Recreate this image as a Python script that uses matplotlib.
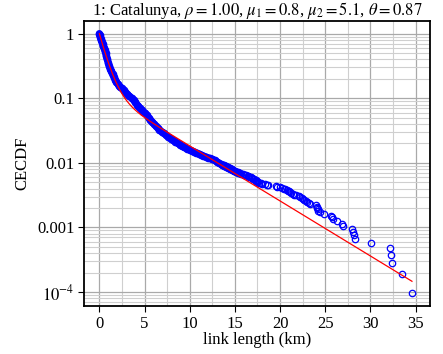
import numpy as np
import matplotlib
matplotlib.use("Agg")
import matplotlib.pyplot as plt
from matplotlib.ticker import FixedLocator, FixedFormatter, NullFormatter

plt.rcParams['font.family'] = ['Liberation Serif', 'DejaVu Serif']
plt.rcParams['mathtext.fontset'] = 'stix'

# --- fit parameters (mixture of two exponentials) ---
region = "Catalunya"
rho = 1.00
mu1 = 0.8
mu2 = 5.1
theta = 0.87
n_links = 10500

# dense part of the empirical CECDF: link length (km) and CECDF value
bulk_len = [0.00, 0.05, 0.10, 0.16, 0.22, 0.29, 0.36, 0.44, 0.52, 0.60, 0.69, 0.78, 0.88, 1.00,
            1.11, 1.22, 1.34, 1.46, 1.60, 1.74, 1.88, 2.02, 2.17, 2.32, 2.48,
            2.68, 2.88, 3.08, 3.30, 3.59,
            3.78, 3.97, 4.15, 4.30, 4.50, 4.70, 4.88, 5.07,
            5.25, 5.45, 5.65, 5.85, 6.05, 6.25, 6.45, 6.65, 6.90,
            7.15, 7.40, 7.65, 7.90, 8.15, 8.40, 8.65, 8.90, 9.15, 9.40, 9.65, 10.0,
            10.25, 10.5, 10.75, 11.0, 11.25, 11.5, 11.75, 12.0, 12.25, 12.5, 12.75, 13.0, 13.2]
bulk_cecdf = [1.00, 0.95, 0.90, 0.84, 0.79, 0.74, 0.69, 0.64, 0.60, 0.55, 0.50, 0.45, 0.40, 0.35,
              0.31, 0.285, 0.26, 0.235, 0.215, 0.195, 0.18, 0.168, 0.157, 0.149, 0.142,
              0.133, 0.124, 0.116, 0.108, 0.100,
              0.094, 0.087, 0.080, 0.075, 0.070, 0.066, 0.062, 0.0586,
              0.0545, 0.050, 0.0462, 0.0428, 0.0400, 0.0372, 0.0348, 0.0326, 0.0304,
              0.0285, 0.0268, 0.0252, 0.0238, 0.0225, 0.0213, 0.0202, 0.0192, 0.0183, 0.0174, 0.0166, 0.0158,
              0.0153, 0.0148, 0.0143, 0.0138, 0.0133, 0.0128, 0.0124, 0.0120, 0.0117, 0.0114, 0.0109, 0.0104, 0.0100]

# longest links, sorted from rank 1 downwards (CECDF = rank / n_links)
tail_len = [34.60, 33.45, 32.42, 32.25, 32.20, 30.05, 28.30, 28.22, 28.05, 27.95,
            26.95, 26.90, 26.30, 25.90, 25.75, 25.65, 24.90, 24.45, 24.25, 24.15,
            24.10, 24.05, 23.95, 23.30, 23.15, 23.00, 22.85, 22.70, 22.55, 22.40,
            22.25, 22.05, 21.80, 21.55, 21.40, 21.20, 21.05, 20.95, 20.85, 20.75,
            20.55, 20.40, 20.20, 20.00, 19.65, 19.55, 18.70, 18.55, 18.30, 18.05,
            17.85, 17.70, 17.60, 17.50, 17.42, 17.35, 17.30, 17.25, 17.15, 17.05,
            16.95, 16.90, 16.75, 16.60, 16.50, 16.40, 16.25, 16.15, 16.00, 15.85,
            15.73, 15.62, 15.51, 15.40, 15.30, 15.21, 15.12, 15.03, 14.94, 14.85,
            14.78, 14.71, 14.64, 14.57, 14.50, 14.44, 14.38, 14.32, 14.26, 14.20,
            14.13, 14.06, 13.99, 13.92, 13.85, 13.78, 13.71, 13.64, 13.57, 13.50]

tail_cecdf = np.arange(1, len(tail_len) + 1) / n_links

fig = plt.figure(figsize=(4.43, 3.54), dpi=100)
ax = fig.add_axes([0.1896, 0.1356, 0.7811, 0.8059])

blue = '#0000ff'
mk = dict(linestyle='none', marker='o', markersize=4.6, markerfacecolor='none',
          markeredgecolor=blue, markeredgewidth=0.9, zorder=3)
# thousands of overlapping circles in the dense part merge into a solid band
ax.plot(bulk_len, bulk_cecdf, color=blue, linewidth=5.2, solid_capstyle='round',
        solid_joinstyle='round', zorder=3)
ax.plot(bulk_len, bulk_cecdf, **mk)
ax.plot(tail_len, tail_cecdf, **mk)

# fitted model
xf = np.linspace(0, max(tail_len), 400)
yf = theta * np.exp(-xf / mu1) + (1 - theta) * np.exp(-xf / mu2)
ax.plot(xf, yf, color='#ff0000', linewidth=0.9, zorder=4)

ax.set_yscale('log')
ax.set_xlim(-1.7, 36.6)
ax.set_ylim(10 ** -4.215, 10 ** 0.2)

ax.xaxis.set_major_locator(FixedLocator([0, 5, 10, 15, 20, 25, 30, 35]))
ax.xaxis.set_minor_locator(FixedLocator([2.5, 7.5, 12.5, 17.5, 22.5, 27.5, 32.5]))
yticks = [1e-4, 1e-3, 1e-2, 1e-1, 1]
ax.yaxis.set_major_locator(FixedLocator(yticks))
ax.yaxis.set_major_formatter(FixedFormatter([r'$10^{-4}$', '0.001', '0.01', '0.1', '1']))
yminor = [m * 10.0 ** e for e in range(-5, 1) for m in range(2, 10)]
ax.yaxis.set_minor_locator(FixedLocator(yminor))
ax.yaxis.set_minor_formatter(NullFormatter())

ax.grid(True, which='major', color='#a9a9a9', linewidth=0.9)
ax.grid(True, which='minor', color='#cfcfcf', linewidth=0.8)
ax.set_axisbelow(True)

ax.tick_params(which='major', direction='out', length=4, width=0.8, labelsize=12, pad=3)
ax.tick_params(which='minor', length=0)
for s in ax.spines.values():
    s.set_linewidth(1.3)

ax.set_xlabel('link length (km)', fontsize=12, labelpad=0)
ax.set_ylabel('CECDF', fontsize=12, labelpad=5)
ax.set_title(rf'1: {region}, $\rho={rho:.2f}$, $\mu_1={mu1}$, $\mu_2={mu2}$, $\theta={theta}$',
             fontsize=12, pad=2)

fig.savefig('out.png', dpi=100)
